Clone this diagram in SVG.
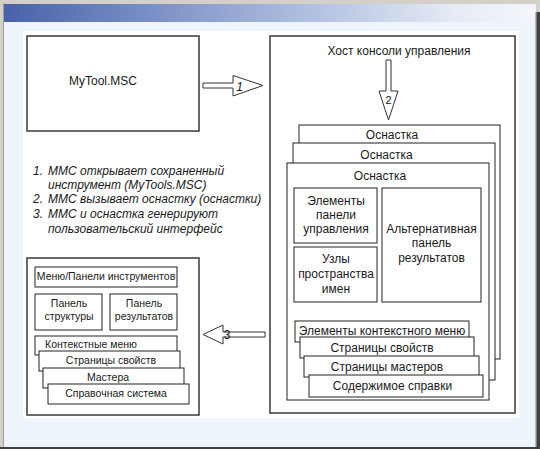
<svg xmlns="http://www.w3.org/2000/svg" width="540" height="449" viewBox="0 0 540 449">
<defs>
<linearGradient id="tb" x1="0" y1="0" x2="1" y2="0">
<stop offset="0" stop-color="#4862aa"/>
<stop offset="0.5" stop-color="#a3b4da"/>
<stop offset="0.85" stop-color="#e6ebf5"/>
<stop offset="1" stop-color="#f4f6fa"/>
</linearGradient>
<style>
text{font-family:"Liberation Sans",Arial,sans-serif;fill:#1a1a1a}
.t12{font-size:12px;text-anchor:middle}
.t10{font-size:10.5px;text-anchor:middle}
.it{font-size:12px;font-style:italic}
.big{fill:#fff;stroke:#3a3a3a;stroke-width:1.5}
.box{fill:#fff;stroke:#222;stroke-width:1}
.arr{fill:#fff;stroke:#333;stroke-width:1}
</style>
</defs>
<!-- frame -->
<rect x="0" y="0" width="540" height="449" fill="#d4d0c8"/>
<rect x="4" y="4" width="532" height="443" fill="#eef4fc"/>
<rect x="4" y="4" width="532" height="18" fill="url(#tb)"/>
<rect x="535.5" y="12" width="1.5" height="437" fill="#808080"/>
<rect x="537" y="12" width="3" height="437" fill="#404040"/>
<rect x="0" y="447" width="540" height="2" fill="#404040"/>
<rect x="3" y="3" width="1" height="444" fill="#a0a0a0"/>
<rect x="23" y="31" width="496" height="387" fill="#fff"/>

<g id="mytool">
<rect class="big" x="27" y="36" width="172" height="95"/>
<text class="t12" x="103" y="85">MyTool.MSC</text>
</g>

<g id="host">
<rect class="big" x="270" y="36" width="245" height="377"/>
<text class="t12" x="399" y="55">Хост консоли управления</text>
</g>

<g id="snapin1">
<rect class="box" x="299" y="125" width="201" height="234"/>
<text class="t12" x="392" y="139">Оснастка</text>
</g>
<g id="snapin2">
<rect class="box" x="293" y="143" width="202" height="237"/>
<text class="t12" x="386.5" y="159">Оснастка</text>
</g>
<g id="snapin3">
<rect class="box" x="287" y="163" width="202" height="237"/>
<text class="t12" x="380" y="180">Оснастка</text>
</g>

<g id="controlbar">
<rect class="box" x="294" y="188" width="83" height="55"/>
<text class="t12" x="336" y="205">Элементы</text>
<text class="t12" x="336" y="219">панели</text>
<text class="t12" x="336" y="233">управления</text>
</g>
<g id="namespace">
<rect class="box" x="294" y="247" width="83" height="55"/>
<text class="t12" x="336" y="263">Узлы</text>
<text class="t12" x="336" y="278">пространства</text>
<text class="t12" x="336" y="293">имен</text>
</g>
<g id="altresult">
<rect class="box" x="382" y="188" width="99" height="114"/>
<text class="t12" x="431.5" y="233">Альтернативная</text>
<text class="t12" x="431.5" y="247">панель</text>
<text class="t12" x="431.5" y="262">результатов</text>
</g>

<g id="ctxitems">
<rect class="box" x="295" y="321" width="174" height="21"/>
<text class="t12" x="382" y="335">Элементы контекстного меню</text>
</g>
<g id="proppages">
<rect class="box" x="300" y="337" width="174" height="21"/>
<text class="t12" x="382" y="352">Страницы свойств</text>
</g>
<g id="wizpages">
<rect class="box" x="304" y="356" width="175" height="21"/>
<text class="t12" x="387" y="371">Страницы мастеров</text>
</g>
<g id="helpcontent">
<rect class="box" x="309" y="375" width="174" height="22"/>
<text class="t12" x="392.5" y="390">Содержимое справки</text>
</g>

<g id="notes">
<text class="it" x="33" y="175">1.</text>
<text class="it" x="48" y="175">ММС открывает сохраненный</text>
<text class="it" x="48" y="189">инструмент (MyTools.MSC)</text>
<text class="it" x="33" y="203">2.</text>
<text class="it" x="48" y="203">ММС вызывает оснастку (оснастки)</text>
<text class="it" x="33" y="218">3.</text>
<text class="it" x="48" y="218">ММС и оснастка генерируют</text>
<text class="it" x="48" y="233">пользовательский интерфейс</text>
</g>

<g id="ui">
<rect class="big" x="27" y="258" width="172" height="157"/>
</g>
<g id="menubar">
<rect class="box" x="35" y="267" width="142" height="20"/>
<text class="t10" x="106" y="280">Меню/Панели инструментов</text>
</g>
<g id="scopepane">
<rect class="box" x="35" y="294" width="67" height="36"/>
<text class="t10" x="69" y="307">Панель</text>
<text class="t10" x="69" y="320">структуры</text>
</g>
<g id="resultpane">
<rect class="box" x="110" y="294" width="67" height="36"/>
<text class="t10" x="144" y="307">Панель</text>
<text class="t10" x="144" y="320">результатов</text>
</g>
<g id="ctxmenu">
<rect class="box" x="35" y="336" width="142" height="19"/>
<text class="t10" x="91" y="348">Контекстные меню</text>
</g>
<g id="props">
<rect class="box" x="39" y="351" width="141" height="20"/>
<text class="t10" x="111" y="364">Страницы свойств</text>
</g>
<g id="wizards">
<rect class="box" x="43" y="368" width="141" height="20"/>
<text class="t10" x="108" y="381">Мастера</text>
</g>
<g id="help">
<rect class="box" x="48" y="384" width="141" height="20"/>
<text class="t10" x="116" y="397">Справочная система</text>
</g>

<g id="connectors">
<polygon class="arr" points="203,83 233,83 233,75.5 263,85.5 233,96 233,88 203,88"/>
<text x="239.5" y="91" style="font-size:12px;font-style:italic;text-anchor:middle">1</text>
<polygon class="arr" points="386,60 391,60 391,91 398,91 388.5,120 379,91 386,91"/>
<text x="388.5" y="104" style="font-size:11px;text-anchor:middle">2</text>
<polygon class="arr" points="265,332 223,332 223,325 203,334.5 223,344 223,337 265,337"/>
<text x="227" y="339" style="font-size:12px;text-anchor:middle">3</text>
</g>
</svg>
